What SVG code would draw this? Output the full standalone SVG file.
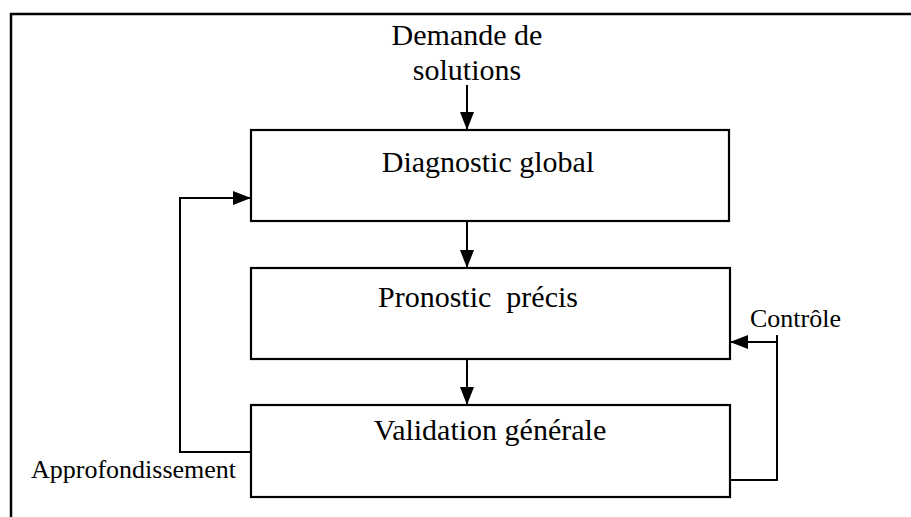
<svg xmlns="http://www.w3.org/2000/svg" width="911" height="517" viewBox="0 0 911 517">
<defs>
<marker id="ah" viewBox="0 0 18 14" refX="18" refY="7" markerWidth="18" markerHeight="14" markerUnits="userSpaceOnUse" orient="auto">
<path d="M0,0 L18,7 L0,14 Z" fill="#000"/>
</marker>
</defs>
<style>
.box{fill:#fff;stroke:#000;stroke-width:2.2}
.t{font-family:'Liberation Serif',Tinos,'Times New Roman',Times,'DejaVu Serif',serif;fill:#000}
.big{font-size:30px}
.small{font-size:26px}
.c{fill:none;stroke:#000;stroke-width:2}
.frame{fill:none;stroke:#000;stroke-width:2.5}
</style>
<rect width="911" height="517" fill="#fff"/>
<path class="frame" d="M11,517 L11,14 L911,14"/>
<g id="input">
<text class="t big" x="467" y="45" text-anchor="middle">Demande de</text>
<text class="t big" x="467" y="80" text-anchor="middle">solutions</text>
</g>
<g id="diagnostic">
<rect class="box" x="251" y="130" width="478" height="91"/>
<text class="t big" x="488" y="172" text-anchor="middle">Diagnostic global</text>
</g>
<g id="pronostic">
<rect class="box" x="251" y="268" width="479" height="91"/>
<text class="t big" x="478" y="307" text-anchor="middle" xml:space="preserve">Pronostic  précis</text>
</g>
<g id="validation">
<rect class="box" x="251" y="405" width="479" height="92"/>
<text class="t big" x="490" y="440" text-anchor="middle">Validation générale</text>
</g>
<g id="labels">
<text class="t small" x="31" y="478">Approfondissement</text>
<text class="t small" x="750" y="327">Contrôle</text>
</g>
<g id="connectors">
<path class="c" d="M467,85 L467,130" marker-end="url(#ah)"/>
<path class="c" d="M467,221 L467,268" marker-end="url(#ah)"/>
<path class="c" d="M467,359 L467,405" marker-end="url(#ah)"/>
<path class="c" d="M251,452 L180,452 L180,198 L251,198" marker-end="url(#ah)"/>
<path class="c" d="M730,480 L777,480 L777,335"/>
<path class="c" d="M777,342 L730,342" marker-end="url(#ah)"/>
</g>
</svg>
